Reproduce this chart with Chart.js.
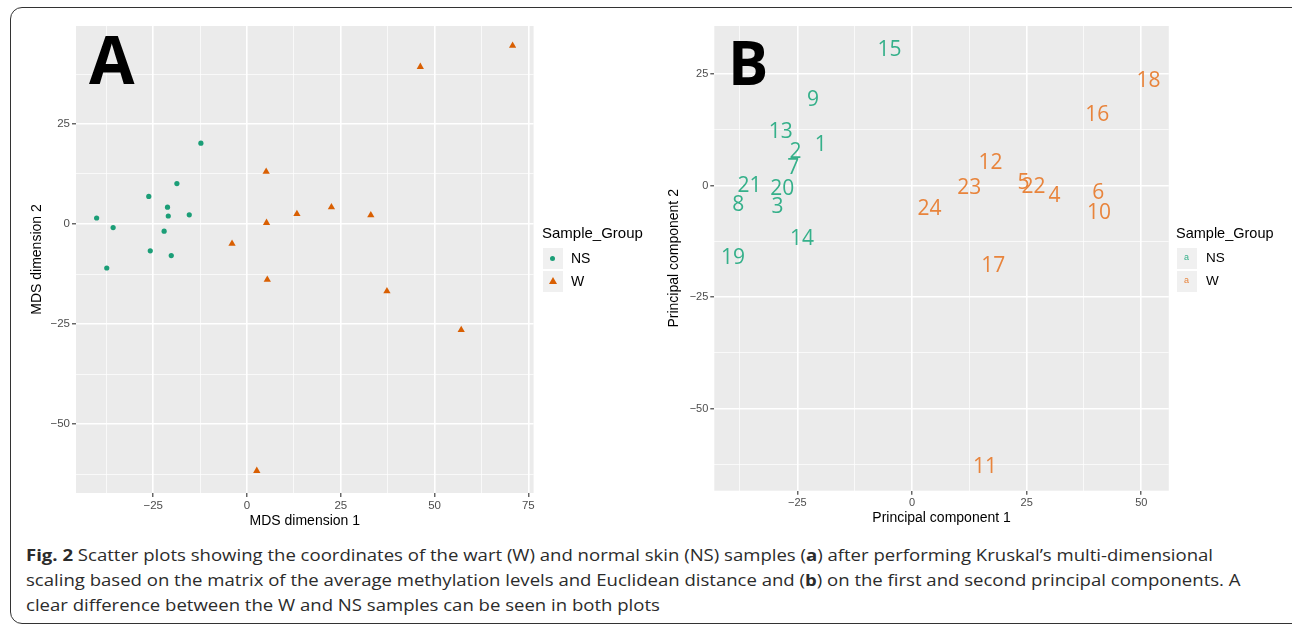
<!DOCTYPE html>
<html>
<head>
<meta charset="utf-8">
<script src="https://cdn.jsdelivr.net/npm/chart.js@4.4.1/dist/chart.umd.min.js"></script>
<style>
  body { margin: 0; width: 1292px; height: 626px; overflow: hidden; position: relative; background: #fff; font-family: "Liberation Sans", Arial, sans-serif; }
  .frame { position: absolute; left: 10px; top: 7px; width: 1300px; height: 617px; border: 1.5px solid #333; border-radius: 12px; box-sizing: border-box; }
  canvas { position: absolute; top: 0; }
  #chartA { left: 0; }
  #chartB { left: 650px; }
  .letter { position: absolute; font-family: "Open Sans", sans-serif; font-weight: 700; color: #000; line-height: 1; }
  .lg-title { position: absolute; color: #000; white-space: nowrap; }
  .lg-key { position: absolute; width: 20px; height: 21px; background: #f0f0f0; }
  .lg-text { position: absolute; color: #000; white-space: nowrap; }
  .cap { position: absolute; left: 26px; font-family: "Open Sans", sans-serif; font-size: 16px; line-height: 24px; color: #2b2b2b; white-space: nowrap; transform-origin: 0 0; }
</style>
</head>
<body>
<div class="frame"></div>
<canvas id="chartA" width="650" height="540"></canvas>
<canvas id="chartB" width="642" height="540"></canvas>

<div class="letter" style="left:89px; top:25px; font-size:66px;">A</div>
<div class="letter" style="left:728px; top:32px; font-size:60px;">B</div>

<!-- legend A -->
<div class="lg-title" style="left:542px; top:224px; font-size:15px; line-height:18px;">Sample_Group</div>
<div class="lg-key" style="left:543px; top:248px;"></div>
<div class="lg-key" style="left:543px; top:271px;"></div>
<div style="position:absolute; left:550px; top:256px; width:5px; height:5px; border-radius:50%; background:#1b9e77;"></div>
<div style="position:absolute; left:549px; top:277px; width:0; height:0; border-left:4px solid transparent; border-right:4px solid transparent; border-bottom:7px solid #d95f02;"></div>
<div class="lg-text" style="left:571px; top:250px; font-size:14px; line-height:16px;">NS</div>
<div class="lg-text" style="left:571px; top:273px; font-size:14px; line-height:16px;">W</div>

<!-- legend B -->
<div class="lg-title" style="left:1176px; top:224px; font-size:14.5px; line-height:18px;">Sample_Group</div>
<div class="lg-key" style="left:1177px; top:248px;"></div>
<div class="lg-key" style="left:1177px; top:271px;"></div>
<div class="lg-text" style="left:1184px; top:251px; font-size:9px; line-height:12px; color:#35b08a;">a</div>
<div class="lg-text" style="left:1184px; top:274px; font-size:9px; line-height:12px; color:#e8843c;">a</div>
<div class="lg-text" style="left:1206px; top:250px; font-size:13.5px; line-height:16px;">NS</div>
<div class="lg-text" style="left:1206px; top:273px; font-size:13.5px; line-height:16px;">W</div>

<div class="cap" id="cap1" style="top:543px;"><b>Fig. 2</b> Scatter plots showing the coordinates of the wart (W) and normal skin (NS) samples (<b>a</b>) after performing Kruskal’s multi-dimensional</div>
<div class="cap" id="cap2" style="top:568px;">scaling based on the matrix of the average methylation levels and Euclidean distance and (<b>b</b>) on the first and second principal components. A</div>
<div class="cap" id="cap3" style="top:593px;">clear difference between the W and NS samples can be seen in both plots</div>

<script>
// panel A: MDS coordinates
const mdsNsX = [-40.1, -35.7, -37.4, -26.2, -25.8, -21.2, -21.0, -22.1, -20.2, -18.7, -15.4, -12.3];
const mdsNsY = [1.5, -0.9, -11.0, 6.9, -6.7, 4.2, 2.0, -1.8, -7.9, 10.1, 2.3, 20.2];
const mdsWX = [70.8, 46.2, 5.1, 5.2, 13.3, 22.5, 33.0, -4.0, 5.4, 37.3, 57.1, 2.6];
const mdsWY = [44.6, 39.3, 13.1, 0.3, 2.5, 4.2, 2.2, -4.9, -13.9, -16.8, -26.5, -61.7];

// panel B: principal components, labelled by sample number
const pcaNsLabels = ['15', '9', '13', '1', '2', '7', '21', '20', '8', '3', '14', '19'];
const pcaNsX = [-4.9, -21.6, -28.6, -19.9, -25.4, -25.9, -35.4, -28.3, -37.9, -29.3, -24.0, -39.0];
const pcaNsY = [30.8, 19.6, 12.3, 9.5, 7.9, 4.3, 0.2, -0.4, -4.0, -4.5, -11.7, -15.9];
const pcaWLabels = ['18', '16', '12', '23', '5', '22', '4', '6', '10', '24', '17', '11'];
const pcaWX = [51.6, 40.4, 17.1, 12.5, 24.3, 26.5, 31.1, 40.6, 40.8, 3.8, 17.7, 15.9];
const pcaWY = [23.7, 16.1, 5.4, -0.2, 0.9, 0.0, -1.9, -1.3, -5.8, -4.9, -17.6, -62.7];

// grid positions (major ones get a label)
const mdsXTicks = [-37.5, -25, -12.5, 0, 12.5, 25, 37.5, 50, 62.5, 75];
const mdsXLabels = [-25, 0, 25, 50, 75];
const mdsYTicks = [-62.5, -50, -37.5, -25, -12.5, 0, 12.5, 25, 37.5];
const mdsYLabels = [-50, -25, 0, 25];
const pcaXTicks = [-37.5, -25, -12.5, 0, 12.5, 25, 37.5, 50];
const pcaXLabels = [-25, 0, 25, 50];
const pcaYTicks = [-62.5, -50, -37.5, -25, -12.5, 0, 12.5, 25];
const pcaYLabels = [-50, -25, 0, 25];

const toPoints = (xs, ys) => xs.map((x, i) => ({ x: x, y: ys[i] }));

const panelBg = {
  id: 'panelBg',
  beforeDraw(chart) {
    const { ctx, chartArea: a } = chart;
    ctx.save();
    ctx.fillStyle = '#ebebeb';
    ctx.fillRect(a.left, a.top, a.right - a.left, a.bottom - a.top);
    ctx.restore();
  }
};

const textLabels = {
  id: 'textLabels',
  afterDatasetsDraw(chart) {
    const ctx = chart.ctx;
    chart.data.datasets.forEach((ds, i) => {
      if (!ds.labels) return;
      const meta = chart.getDatasetMeta(i);
      ctx.save();
      ctx.font = '21px "Open Sans"';
      ctx.fillStyle = ds.textColor;
      ctx.textAlign = 'center';
      ctx.textBaseline = 'alphabetic';
      meta.data.forEach((pt, j) => ctx.fillText(ds.labels[j], pt.x, pt.y + 7.5));
      ctx.restore();
    });
  }
};

function axis(min, max, ticks, labels, title, tickSize, size, horizontal) {
  const isMajor = c => c.tick && labels.includes(c.tick.value);
  return {
    type: 'linear',
    min: min,
    max: max,
    afterBuildTicks: s => { s.ticks = ticks.map(v => ({ value: v })); },
    afterFit: s => { if (horizontal) s.height = size; else s.width = size; },
    grid: {
      color: '#ffffff',
      lineWidth: c => isMajor(c) ? 1.6 : 0.7,
      tickColor: c => isMajor(c) ? '#333333' : 'rgba(0,0,0,0)',
      tickLength: 4,
      tickWidth: 1.1
    },
    border: { display: false },
    ticks: {
      autoSkip: false,
      maxRotation: 0,
      padding: 2,
      color: '#4d4d4d',
      font: { family: 'Liberation Sans', size: tickSize },
      callback: v => labels.includes(v) ? String(v).replace('-', '\u2212') : ''
    },
    title: {
      display: true,
      text: title,
      color: '#000',
      padding: 0,
      font: { family: 'Liberation Sans', size: 14 }
    }
  };
}

Chart.defaults.animation = false;

new Chart(document.getElementById('chartA').getContext('2d'), {
  type: 'scatter',
  data: {
    datasets: [
      {
        label: 'NS',
        data: toPoints(mdsNsX, mdsNsY),
        pointStyle: 'circle',
        pointRadius: 2.6,
        backgroundColor: '#1b9e77',
        borderWidth: 0
      },
      {
        label: 'W',
        data: toPoints(mdsWX, mdsWY),
        pointStyle: 'triangle',
        pointRadius: 4.2,
        backgroundColor: '#d95f02',
        borderWidth: 0
      }
    ]
  },
  options: {
    responsive: false,
    layout: { padding: { left: 28.6, top: 26, right: 116.4, bottom: 10.6 } },
    plugins: { legend: { display: false }, tooltip: { enabled: false } },
    scales: {
      x: axis(-45.6, 76.4, mdsXTicks, mdsXLabels, 'MDS dimension 1', 11.5, 36.4, true),
      y: axis(-67.25, 49.5, mdsYTicks, mdsYLabels, 'MDS dimension 2', 11.5, 47.4, false)
    }
  },
  plugins: [panelBg]
});

new Chart(document.getElementById('chartB').getContext('2d'), {
  type: 'scatter',
  data: {
    datasets: [
      {
        label: 'NS',
        data: toPoints(pcaNsX, pcaNsY),
        labels: pcaNsLabels,
        textColor: '#35b08a',
        pointRadius: 0
      },
      {
        label: 'W',
        data: toPoints(pcaWX, pcaWY),
        labels: pcaWLabels,
        textColor: '#e8843c',
        pointRadius: 0
      }
    ]
  },
  options: {
    responsive: false,
    layout: { padding: { left: 16.2, top: 26, right: 123.2, bottom: 13.6 } },
    plugins: { legend: { display: false }, tooltip: { enabled: false } },
    scales: {
      x: axis(-43.1, 56, pcaXTicks, pcaXLabels, 'Principal component 1', 11, 35.7, true),
      y: axis(-68.4, 35.8, pcaYTicks, pcaYLabels, 'Principal component 2', 11, 48.1, false)
    }
  },
  plugins: [panelBg, textLabels]
});

// squeeze the caption lines to the width of the printed caption
const cap1 = document.getElementById('cap1');
const squeeze = 1187 / cap1.scrollWidth;
['cap1', 'cap2', 'cap3'].forEach(id => {
  document.getElementById(id).style.transform = 'scaleX(' + squeeze + ')';
});
</script>
</body>
</html>
